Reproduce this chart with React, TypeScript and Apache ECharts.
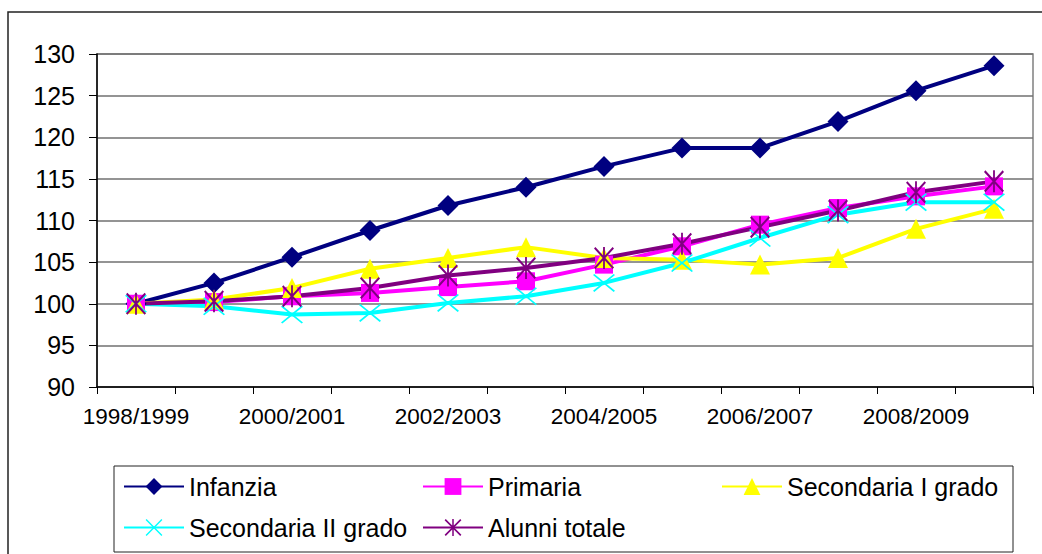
import React, { useEffect, useRef } from "react";
import * as echarts from "echarts";

const categories = [
  "1998/1999", "1999/2000", "2000/2001", "2001/2002", "2002/2003", "2003/2004",
  "2004/2005", "2005/2006", "2006/2007", "2007/2008", "2008/2009", "2009/2010",
];
const infanzia = [100, 102.5, 105.6, 108.8, 111.8, 114.0, 116.5, 118.7, 118.7, 121.9, 125.6, 128.6];
const primaria = [100, 100.2, 100.9, 101.3, 102.0, 102.7, 104.7, 106.9, 109.5, 111.5, 112.9, 114.1];
const secondariaI = [100, 100.5, 101.9, 104.2, 105.5, 106.8, 105.5, 105.3, 104.7, 105.5, 109.0, 111.4];
const secondariaII = [100, 99.7, 98.7, 98.9, 100.1, 100.9, 102.5, 104.9, 107.9, 110.7, 112.2, 112.2];
const alunniTotale = [100, 100.3, 100.9, 101.9, 103.4, 104.3, 105.5, 107.2, 109.2, 111.2, 113.4, 114.7];
const seriesNames = ["Infanzia", "Primaria", "Secondaria I grado", "Secondaria II grado", "Alunni totale"];

const FONT = "'Liberation Sans', Arial, sans-serif";
const X_SYMBOL =
  "path://M0,1.2 L1.2,0 L20,18.8 L18.8,20 Z M18.8,0 L20,1.2 L1.2,20 L0,18.8 Z";
const STAR_SYMBOL =
  "path://M9.1,0 L10.9,0 L10.9,20 L9.1,20 Z M0,1.4 L1.4,0 L20,18.6 L18.6,20 Z M18.6,0 L20,1.4 L1.4,20 L0,18.6 Z";

export default function App() {
  const ref = useRef<HTMLDivElement>(null);
  useEffect(() => {
    if (!ref.current) return;
    const chart = echarts.init(ref.current, undefined, { renderer: "svg" });
    const mk = (name: string, data: number[], color: string, symbol: string, size: any) => ({
      name,
      type: "line",
      data,
      symbol,
      symbolSize: size,
      lineStyle: { color, width: 4 },
      itemStyle: { color, borderWidth: 0 },
      emphasis: { disabled: true },
    });
    const legendPos = [
      { name: seriesNames[0], left: 123, top: 474 },
      { name: seriesNames[1], left: 422, top: 474 },
      { name: seriesNames[2], left: 721, top: 474 },
      { name: seriesNames[3], left: 123, top: 515 },
      { name: seriesNames[4], left: 422, top: 515 },
    ];
    chart.setOption({
      animation: false,
      grid: {
        left: 97,
        right: 9,
        top: 54,
        bottom: 167,
        show: true,
        borderColor: "#808080",
        borderWidth: 1.5,
      },
      xAxis: {
        type: "category",
        data: categories,
        boundaryGap: true,
        axisLine: { lineStyle: { color: "#000", width: 1.5 } },
        axisTick: { show: true, interval: 0, length: 7, lineStyle: { color: "#000" } },
        axisLabel: { interval: 1, margin: 18, fontSize: 22.5, color: "#000", fontFamily: FONT },
        splitLine: { show: false },
      },
      yAxis: {
        type: "value",
        min: 90,
        max: 130,
        interval: 5,
        axisLine: { show: true, lineStyle: { color: "#000", width: 1.5 } },
        axisTick: { show: true, length: 8, lineStyle: { color: "#000" } },
        axisLabel: { margin: 22, fontSize: 25, color: "#000", fontFamily: FONT },
        splitLine: { show: true, lineStyle: { color: "#707070", width: 1.5 } },
      },
      legend: legendPos.map((p) => ({
        data: [p.name],
        left: p.left,
        top: p.top,
        padding: 0,
        itemWidth: 60,
        itemHeight: 21,
        selectedMode: false,
        textStyle: { fontSize: 25, color: "#000", fontFamily: FONT, lineHeight: 21 },
      })),
      graphic: [
        {
          type: "rect",
          shape: { x: 8, y: 12, width: 1060, height: 580 },
          style: { fill: "none", stroke: "#222", lineWidth: 1.5 },
          silent: true,
          z: -10,
        },
        {
          type: "rect",
          shape: { x: 114, y: 466, width: 899, height: 86 },
          style: { fill: "none", stroke: "#222", lineWidth: 1 },
          silent: true,
          z: -10,
        },
      ],
      series: [
        mk(seriesNames[0], infanzia, "#000080", "diamond", 21),
        mk(seriesNames[1], primaria, "#FF00FF", "rect", 18),
        mk(seriesNames[2], secondariaI, "#FFFF00", "triangle", 20),
        mk(seriesNames[3], secondariaII, "#00FFFF", X_SYMBOL, [22, 18]),
        mk(seriesNames[4], alunniTotale, "#800080", STAR_SYMBOL, [20, 22]),
      ],
    });
    return () => chart.dispose();
  }, []);
  return (
    <div
      ref={ref}
      style={{ position: "fixed", left: 0, top: 0, width: 1042, height: 554, background: "#fff" }}
    />
  );
}
